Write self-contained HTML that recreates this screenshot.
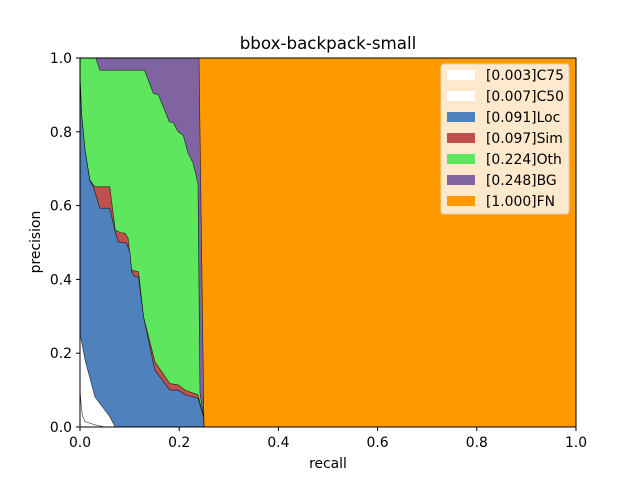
<!DOCTYPE html>
<html><head><meta charset="utf-8">
<style>
body{margin:0;background:#fff;}
svg text{font-family:"DejaVu Sans","Liberation Sans",sans-serif;fill:#000;}
</style></head>
<body>
<svg id="chart" width="640" height="480" xmlns="http://www.w3.org/2000/svg">
<rect width="640" height="480" fill="#fff"/>
<text x="328" y="49" font-size="16.7" text-anchor="middle">bbox-backpack-small</text>
<g id="areas"></g>
<rect x="80" y="58" width="496" height="369" fill="none" stroke="#000" stroke-width="1"/>
<g id="ticks"></g>
<text x="328" y="468" font-size="13.9" text-anchor="middle">recall</text>
<text x="0" y="0" font-size="13.9" text-anchor="middle" transform="translate(40,242) rotate(-90)">precision</text>
<g id="legend"></g>
</svg>
<script>
const seriesNames = ["C75","C50","Loc","Sim","Oth","BG","FN"];
const seriesAP = ["0.003","0.007","0.091","0.097","0.224","0.248","1.000"];
const seriesColors = ["#ffffff","#ffffff","#4f81bd","#c0504d","#5de65e","#8064a2","#ff9900"];
const recallC75 = [0,0.003,0.005,0.01,0.03,0.05];
const precC75 = [0.1,0.05,0.03,0.015,0.006,0];
const recallC50 = [0,0.002,0.010,0.030,0.050,0.060,0.071];
const precC50 = [0.245,0.24,0.182,0.082,0.046,0.028,0];
const recallLoc = [0,0.003,0.010,0.020,0.027,0.040,0.060,0.071,0.077,0.094,0.101,0.104,0.110,0.118,0.128,0.151,0.181,0.198,0.212,0.238,0.249,0.25];
const precLoc = [0.95,0.85,0.751,0.667,0.651,0.593,0.593,0.529,0.502,0.498,0.471,0.421,0.407,0.407,0.299,0.154,0.10,0.10,0.087,0.078,0.028,0];
const recallSim = [0,0.003,0.010,0.020,0.030,0.060,0.071,0.081,0.091,0.097,0.104,0.118,0.128,0.151,0.181,0.198,0.212,0.238,0.249,0.25];
const precSim = [0.95,0.85,0.751,0.669,0.651,0.651,0.534,0.527,0.525,0.511,0.425,0.421,0.299,0.177,0.118,0.114,0.10,0.087,0.028,0];
const recallOth = [0,0.032,0.040,0.130,0.148,0.158,0.180,0.188,0.198,0.208,0.218,0.228,0.238,0.242,0.249,0.25];
const precOth = [1,1,0.967,0.967,0.904,0.90,0.827,0.825,0.80,0.791,0.742,0.715,0.66,0.092,0.028,0];
const recallBG = [0,0.240,0.250];
const precBG = [1,1,0];
const recallFN = [0,1];
const precFN = [1,1];
const xTicks = ["0.0","0.2","0.4","0.6","0.8","1.0"];
const yTicks = ["0.0","0.2","0.4","0.6","0.8","1.0"];

const X0=80,X1=576,Y0=427,Y1=58;
function sx(v){return X0+v*(X1-X0);}
function sy(v){return Y0-v*(Y0-Y1);}
const NS="http://www.w3.org/2000/svg";
const areas=document.getElementById('areas');
const curves=[[recallFN,precFN],[recallBG,precBG],[recallOth,precOth],[recallSim,precSim],[recallLoc,precLoc],[recallC50,precC50],[recallC75,precC75]];
const order=[6,5,4,3,2,1,0];
order.forEach((si,k)=>{
  const [r,p]=curves[k];
  let pts=r.map((v,i)=>sx(v).toFixed(1)+","+sy(p[i]).toFixed(1));
  const last=r[r.length-1];
  if(si===6){pts.push(sx(1)+","+sy(0));}
  pts.push(sx(last)+","+sy(0)); pts.push(sx(0)+","+sy(0));
  const poly=document.createElementNS(NS,'polygon');
  poly.setAttribute('points',pts.join(' '));
  poly.setAttribute('fill',seriesColors[si]);
  poly.setAttribute('stroke','none');
  
  
  areas.appendChild(poly);
  const line=document.createElementNS(NS,'polyline');
  line.setAttribute('points',r.map((v,i)=>sx(v).toFixed(1)+","+sy(p[i]).toFixed(1)).join(' '));
  line.setAttribute('fill','none');
  line.setAttribute('stroke','#000');
  line.setAttribute('stroke-width','0.6');
  line.setAttribute('stroke-opacity','0.8');
  
  
  areas.appendChild(line);
});
const ticks=document.getElementById('ticks');
xTicks.forEach((t,i)=>{
  const x=sx(i/(xTicks.length-1));
  const l=document.createElementNS(NS,'line');
  l.setAttribute('x1',x);l.setAttribute('x2',x);l.setAttribute('y1',427);l.setAttribute('y2',431);
  l.setAttribute('stroke','#000');
  
  
  ticks.appendChild(l);
  const tx=document.createElementNS(NS,'text');
  tx.setAttribute('x',x);tx.setAttribute('y',447);tx.setAttribute('font-size','13.9');tx.setAttribute('text-anchor','middle');
  tx.textContent=t;
  
  
  ticks.appendChild(tx);
});
yTicks.forEach((t,i)=>{
  const y=sy(i/(yTicks.length-1));
  const l=document.createElementNS(NS,'line');
  l.setAttribute('x1',76);l.setAttribute('x2',80);l.setAttribute('y1',y);l.setAttribute('y2',y);
  l.setAttribute('stroke','#000');
  
  
  ticks.appendChild(l);
  const tx=document.createElementNS(NS,'text');
  tx.setAttribute('x',72);tx.setAttribute('y',y+5);tx.setAttribute('font-size','13.9');tx.setAttribute('text-anchor','end');
  tx.textContent=t;
  
  
  ticks.appendChild(tx);
});
const lg=document.getElementById('legend');
const box=document.createElementNS(NS,'rect');
box.setAttribute('x',441);box.setAttribute('y',64);box.setAttribute('width',128);box.setAttribute('height',150);
box.setAttribute('rx',3);box.setAttribute('fill','#ffe9cc');box.setAttribute('stroke','#e0cdb4');


lg.appendChild(box);
seriesNames.forEach((n,i)=>{
  const y=75+i*21;
  const sw=document.createElementNS(NS,'rect');
  sw.setAttribute('x',447);sw.setAttribute('y',y-5);sw.setAttribute('width',28);sw.setAttribute('height',10);
  sw.setAttribute('fill',seriesColors[i]);
  
  
  lg.appendChild(sw);
  const tx=document.createElementNS(NS,'text');
  tx.setAttribute('x',486);tx.setAttribute('y',y+5);tx.setAttribute('font-size','13.9');
  tx.textContent='['+seriesAP[i]+']'+n;
  
  
  lg.appendChild(tx);
});
</script>
</body></html>
